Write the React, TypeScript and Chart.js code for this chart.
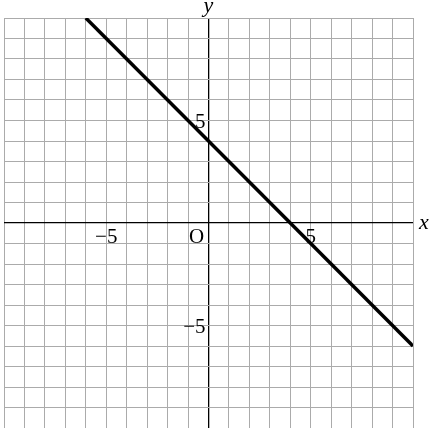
import { useEffect, useRef } from 'react';
import { Chart, registerables } from 'chart.js';

Chart.register(...registerables);

// y = -x + 4, drawn across the grid
const lineX = [-6, 10];
const lineY = [10, -6];

const axisMin = -10;
const axisMax = 10;
const xTickLabels = [-5, 5];
const yTickLabels = [5, -5];

const FONT = '"Liberation Serif", "DejaVu Serif", serif';

const fmt = (v: number) => (v < 0 ? '\u2212' + Math.abs(v) : String(v));

const labelsPlugin = {
  id: 'mathLabels',
  afterDraw(chart: Chart) {
    const { ctx } = chart;
    const xs = chart.scales.x;
    const ys = chart.scales.y;
    const ox = xs.getPixelForValue(0);
    const oy = ys.getPixelForValue(0);
    ctx.save();
    ctx.fillStyle = '#000';
    ctx.font = `21px ${FONT}`;

    ctx.textAlign = 'center';
    ctx.textBaseline = 'top';
    xTickLabels.forEach(v => {
      ctx.fillText(fmt(v), xs.getPixelForValue(v), oy + 4);
    });

    ctx.textAlign = 'right';
    ctx.textBaseline = 'middle';
    yTickLabels.forEach(v => {
      ctx.fillText(fmt(v), ox - 3, ys.getPixelForValue(v) + 2);
    });

    ctx.textAlign = 'center';
    ctx.textBaseline = 'top';
    ctx.fillText('O', ox - 12, oy + 4);

    ctx.font = `italic 22px ${FONT}`;
    ctx.textAlign = 'left';
    ctx.textBaseline = 'alphabetic';
    ctx.fillText('x', chart.chartArea.right + 6, oy + 6);
    ctx.textAlign = 'center';
    ctx.fillText('y', ox, chart.chartArea.top - 6);
    ctx.restore();
  },
};

function GraphChart() {
  const canvasRef = useRef<HTMLCanvasElement>(null);
  const chartRef = useRef<Chart | null>(null);

  useEffect(() => {
    if (!canvasRef.current) return;
    const ctx = canvasRef.current.getContext('2d');
    if (!ctx) return;

    const gridColor = (c: any) => (c.tick && c.tick.value === 0 ? '#000' : '#ababab');
    const gridWidth = (c: any) => (c.tick && c.tick.value === 0 ? 1.3 : 1);

    const axis = {
      type: 'linear' as const,
      min: axisMin,
      max: axisMax,
      ticks: { display: false, stepSize: 1 },
      border: { display: false },
      grid: { color: gridColor, lineWidth: gridWidth, drawTicks: false },
    };

    chartRef.current = new Chart(ctx, {
      type: 'scatter',
      data: {
        datasets: [
          {
            data: lineX.map((x, i) => ({ x, y: lineY[i] })),
            showLine: true,
            borderColor: '#000',
            borderWidth: 3.5,
            pointRadius: 0,
          },
        ],
      },
      options: {
        animation: false,
        responsive: true,
        maintainAspectRatio: false,
        layout: { padding: { left: 4, top: 18, right: 21, bottom: 0 } },
        plugins: { legend: { display: false }, tooltip: { enabled: false } },
        scales: { x: axis, y: axis },
      },
      plugins: [labelsPlugin],
    });

    return () => {
      chartRef.current?.destroy();
      chartRef.current = null;
    };
  }, []);

  return (
    <div style={{ width: 434, height: 428, position: 'relative' }}>
      <canvas ref={canvasRef} />
    </div>
  );
}

export default function App() {
  useEffect(() => {
    document.body.style.margin = '0';
  }, []);
  return <GraphChart />;
}
